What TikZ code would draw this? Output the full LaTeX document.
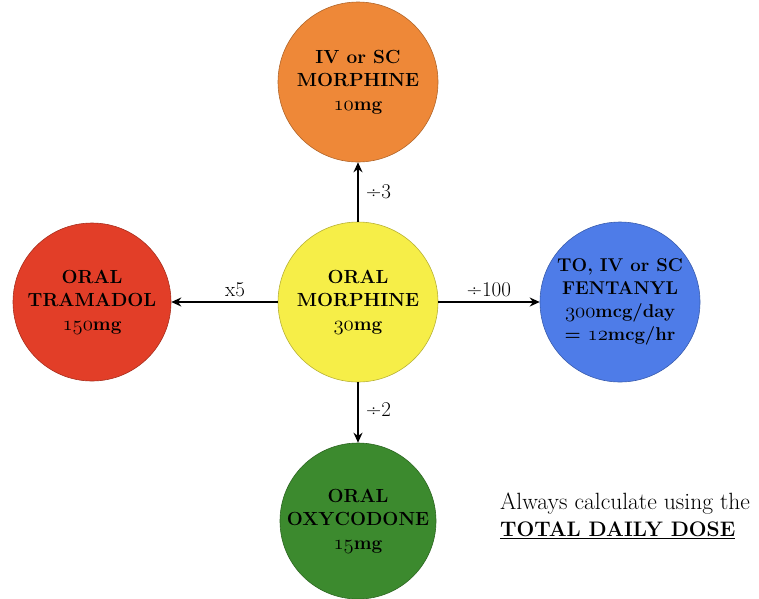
\documentclass[tikz,border=0pt]{standalone}
\usetikzlibrary{arrows.meta}
\definecolor{corange}{RGB}{238,136,56}
\definecolor{cyellow}{RGB}{246,238,72}
\definecolor{cred}{RGB}{226,62,40}
\definecolor{cblue}{RGB}{78,124,232}
\definecolor{cgreen}{RGB}{60,138,46}
\newcommand{\osfig}[1]{{\fontsize{21.5}{23.5}\usefont{OML}{lmm}{b}{it}#1}}
\begin{document}
\begin{tikzpicture}[x=1pt,y=-1pt,
  drug/.style={circle,minimum size=160pt,inner sep=0pt,align=center,
    draw=#1!75!black,line width=0.6pt,fill=#1,
    font=\fontsize{19}{23.5}\selectfont\bfseries},
  conv/.style={line width=1.6pt,-{Stealth[length=10pt,width=9pt]}},
  lbl/.style={font=\fontsize{21}{24}\selectfont}]
\useasboundingbox (0,0) rectangle (759,598);
\node[drug=cyellow] (c) at (358,302) {ORAL\\MORPHINE\\\osfig{30}mg};
\node[drug=corange] (t) at (358,82) {IV or SC\\MORPHINE\\\osfig{10}mg};
\node[drug=cred,minimum size=158pt] (l) at (92,302) {ORAL\\TRAMADOL\\\osfig{150}mg};
\node[drug=cblue,font=\fontsize{18.5}{23}\selectfont\bfseries] (r) at (620,302) {TO, IV or SC\\FENTANYL\\\osfig{300}mcg/day\\= \osfig{12}mcg/hr};
\node[drug=cgreen,minimum size=156pt] (b) at (358,521) {ORAL\\OXYCODONE\\\osfig{15}mg};
\draw[conv] (c.north) -- (t.south) node[lbl,midway,right=4pt] {÷3};
\draw[conv] (c.west) -- (l.east) node[lbl,pos=0.4,above=1pt] {x5};
\draw[conv] (c.east) -- (r.west) node[lbl,midway,above=1pt] {÷100};
\draw[conv] (c.south) -- (b.north) node[lbl,pos=0.45,right=4pt] {÷2};
\node[anchor=north west,align=left,inner sep=0pt,font=\fontsize{23.5}{27}\selectfont] (note) at (500,493)
  {Always calculate using the\\{\bfseries\fontsize{21}{27}\selectfont\underline{TOTAL DAILY DOSE}}};
\end{tikzpicture}
\end{document}
